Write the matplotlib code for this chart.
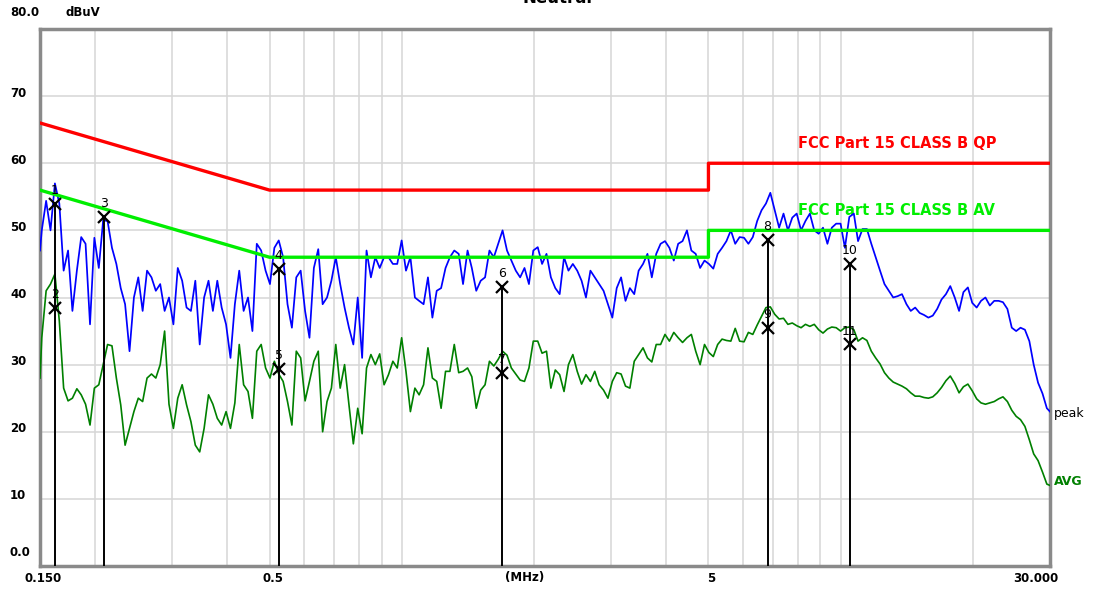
import matplotlib
matplotlib.use("Agg")
import matplotlib.pyplot as plt
from matplotlib.transforms import ScaledTranslation, blended_transform_factory

# 100 points per decade mantissa table (sweep frequencies)
MANTISSA = [1.000, 1.023, 1.047, 1.072, 1.096, 1.122, 1.148, 1.175, 1.202, 1.230,
            1.259, 1.288, 1.318, 1.349, 1.380, 1.413, 1.445, 1.479, 1.514, 1.549,
            1.585, 1.622, 1.660, 1.698, 1.738, 1.778, 1.820, 1.862, 1.905, 1.950,
            1.995, 2.042, 2.089, 2.138, 2.188, 2.239, 2.291, 2.344, 2.399, 2.455,
            2.512, 2.570, 2.630, 2.692, 2.754, 2.818, 2.884, 2.951, 3.020, 3.090,
            3.162, 3.236, 3.311, 3.388, 3.467, 3.548, 3.631, 3.715, 3.802, 3.890,
            3.981, 4.074, 4.169, 4.266, 4.365, 4.467, 4.571, 4.677, 4.786, 4.898,
            5.012, 5.129, 5.248, 5.370, 5.495, 5.623, 5.754, 5.888, 6.026, 6.166,
            6.310, 6.457, 6.607, 6.761, 6.918, 7.079, 7.244, 7.413, 7.586, 7.762,
            7.943, 8.128, 8.318, 8.511, 8.710, 8.913, 9.120, 9.333, 9.550, 9.772]

FREQ_MHZ = ([0.150] + [m / 10 for m in MANTISSA[18:]] + MANTISSA
            + [m * 10 for m in MANTISSA[:48]] + [30.0])

PEAK_DBUV = [47,
    50, 54.4, 50, 57, 54, 44, 47, 38, 44, 49,
    48, 36, 48.9, 44.4, 51.5, 51.4, 47.4, 45, 41.4, 39,
    32, 40, 43, 38, 44, 43, 41, 42, 38, 40,
    36, 44.4, 42.5, 38.5, 38, 42.5, 33, 40, 42.5, 38,
    42.5, 38.5, 36, 31, 39, 44, 38, 40, 35, 48,
    47, 44, 42, 47.4, 48.5, 46, 39, 35.5, 43, 44,
    38, 34, 44.4, 47.2, 39, 40, 42.5, 46, 42, 38.5,
    35.5, 33, 40, 31, 47, 43, 46, 44.4, 46, 46,
    45, 45, 48.5, 44, 46, 40, 39.5, 39, 43, 37,
    41, 41.4, 44.4, 46, 47, 46.5, 42, 47, 44.4, 41,
    42.5, 43, 47, 46, 48, 50, 47, 45.5, 44, 43,
    44.4, 42, 47, 47.5, 45, 46.5, 43, 41.4, 40.5, 46,
    44, 45, 44, 42.5, 40, 44, 43, 42, 41, 39,
    37, 41.4, 43, 39.5, 41.4, 40.5, 44, 45, 46.5, 43,
    46.5, 48, 48.4, 47.4, 45.5, 48, 48.4, 50, 47, 46.5,
    44.4, 45.5, 45, 44.3, 46.5, 47.4, 48.4, 50, 48, 49,
    48.9, 48, 49, 51.4, 53, 54, 55.6, 53, 50.4, 52.5,
    50, 51.9, 52.5, 50, 51.4, 52.5, 50, 49.5, 50.4, 48,
    50.4, 51, 51, 47.4, 52, 52.5, 48.4, 50.2, 50.2, 48,
    46, 44, 42, 41, 40, 40.2, 40.5, 39, 38, 38.5,
    37.7, 37.4, 37, 37.3, 38.3, 39.7, 40.5, 41.7, 40, 38,
    40.8, 41.5, 39.2, 38.5, 39.5, 40, 38.8, 39.5, 39.5, 39.3,
    38.3, 35.5, 35, 35.5, 35.2, 33.5, 30, 27.3, 25.7, 23.5,
    23]

AVG_DBUV = [28,
    34, 41, 42, 43.5, 36.5, 26.5, 24.6, 25, 26.4, 25.5,
    24.1, 21, 26.5, 27, 30, 33, 32.8, 28, 24, 18,
    20.5, 23, 25, 24.5, 28, 28.6, 28, 30, 35, 24.1,
    20.5, 25, 27, 24, 21.5, 18, 17, 20.5, 25.5, 24.1,
    22, 21, 23, 20.5, 24.3, 33, 27, 26, 22, 32,
    33, 29.5, 28, 30.5, 28.6, 27.5, 24.5, 21, 32, 31,
    24.6, 27.5, 30.5, 32, 20, 24.5, 26.5, 33, 26.5, 30,
    24, 18.2, 23.5, 19.7, 29.5, 31.5, 30, 31.6, 27, 28.5,
    30.5, 29.5, 34, 29, 23, 26.5, 25.5, 27, 32.5, 28,
    27.5, 23.5, 29, 29, 33, 28.8, 29, 29.5, 28.2, 23.5,
    26.2, 27, 30.5, 29.8, 30.8, 32, 31.4, 29.5, 28.6, 27.7,
    27.5, 29.5, 33.5, 33.5, 31.7, 32, 26.5, 29.2, 28.5, 26,
    30, 31.5, 29, 27.1, 28.5, 27.5, 29, 27, 26.2, 25,
    27.5, 28.8, 28.6, 26.8, 26.5, 30.5, 31.5, 32.5, 31, 30.4,
    33, 33, 34.5, 33.5, 34.8, 34, 33.3, 34, 34.5, 32,
    30, 33, 31.8, 31.2, 33, 33.8, 33.6, 33.5, 35.4, 33.5,
    33.4, 34.8, 34.5, 35.9, 37.2, 38.5, 38.6, 37.5, 36.8, 36.9,
    36, 36.2, 35.8, 35.5, 36, 35.7, 36, 35.2, 34.7, 35.3,
    35.6, 35.5, 35, 35.5, 35.6, 35.2, 33.5, 34, 33.6, 32,
    31, 30.1, 28.8, 28, 27.4, 27.1, 26.8, 26.4, 25.8, 25.3,
    25.3, 25.1, 25, 25.2, 25.8, 26.6, 27.6, 28.3, 27.2, 25.8,
    26.7, 27.1, 26.1, 24.9, 24.3, 24.1, 24.3, 24.5, 24.9, 25.2,
    24.5, 23.2, 22.3, 21.8, 20.8, 18.8, 16.7, 15.7, 14, 12.2,
    12]

# FCC Part 15 class B limits
LIMIT_FREQ = [0.15, 0.5, 0.5, 5, 5, 30]
QP_LIMIT = [66, 56, 56, 56, 60, 60]
AV_LIMIT = [56, 46, 46, 46, 50, 50]

MARKER_NO = ["1", "2", "3", "4", "5", "6", "7", "8", "9", "10", "11"]
MARKER_FREQ = [0.162, 0.162, 0.210, 0.525, 0.525, 1.69, 1.69, 6.82, 6.82, 10.5, 10.5]
MARKER_LEVEL = [54.0, 38.5, 52.0, 44.3, 29.3, 41.5, 28.8, 48.5, 35.5, 45.0, 33.0]

Y_LABELS = [(80, "80.0"), (70, "70"), (60, "60"), (50, "50"), (40, "40"),
            (30, "30"), (20, "20"), (10, "10"), (0, "0.0")]
X_LABELS = [(0.15, "0.150"), (0.5, "0.5"), (5, "5"), (30, "30.000")]
GRID_X = [0.2, 0.3, 0.4, 0.5, 0.6, 0.7, 0.8, 0.9, 1, 2, 3, 4, 5, 6, 7, 8, 9, 10, 20]
GRID_Y = [10, 20, 30, 40, 50, 60, 70]

BLUE = "#0000ff"
DKGREEN = "#008000"
LIME = "#00ee00"
RED = "#ff0000"

plt.rcParams["font.family"] = ["DejaVu Sans"]

fig = plt.figure(figsize=(10.94, 5.95), dpi=100)
ax = fig.add_axes([40 / 1094, 29 / 595, 1010 / 1094, 537 / 595])
ax.set_xscale("log")
ax.set_xlim(0.15, 30)
ax.set_ylim(0, 80)
ax.minorticks_off()
ax.set_xticks(GRID_X)
ax.set_yticks(GRID_Y)
ax.tick_params(length=0, labelbottom=False, labelleft=False)
ax.grid(True, color="#d6d6d6", lw=1.1)
ax.set_axisbelow(True)
for side, sp in ax.spines.items():
    sp.set_color("#8a8a8a")
    sp.set_linewidth(2.5)

# traces
ax.plot(FREQ_MHZ, PEAK_DBUV, color=BLUE, lw=1.25, zorder=3)
ax.plot(FREQ_MHZ, AVG_DBUV, color=DKGREEN, lw=1.2, zorder=3)

# limits
ax.plot(LIMIT_FREQ, QP_LIMIT, color=RED, lw=2.4, zorder=4)
ax.plot(LIMIT_FREQ, AV_LIMIT, color=LIME, lw=2.4, zorder=4)
ax.text(8.0, 62.9, "FCC Part 15 CLASS B QP", color=RED, fontsize=10.5,
        fontweight="bold", va="center", zorder=2)
ax.text(8.0, 52.9, "FCC Part 15 CLASS B AV", color=LIME, fontsize=10.5,
        fontweight="bold", va="center", zorder=2)

# markers
tops = {}
for f, lv in zip(MARKER_FREQ, MARKER_LEVEL):
    tops[f] = max(tops.get(f, 0), lv)
ax.vlines(list(tops.keys()), 0, list(tops.values()), colors="black", lw=1.4, zorder=5)
ax.plot(MARKER_FREQ, MARKER_LEVEL, "x", color="black", ms=8, mew=1.6, zorder=6)
for no, f, lv in zip(MARKER_NO, MARKER_FREQ, MARKER_LEVEL):
    ax.annotate(no, (f, lv), xytext=(0, 5), textcoords="offset points",
                ha="center", va="bottom", fontsize=9, zorder=6)

# trace names at right edge
ax.annotate("peak", (30, PEAK_DBUV[-1]), xytext=(3, -1), textcoords="offset points",
            ha="left", va="center", fontsize=9, annotation_clip=False)
ax.annotate("AVG", (30, AVG_DBUV[-1]), xytext=(3, 3), textcoords="offset points",
            ha="left", va="center", fontsize=9, color=DKGREEN, fontweight="bold",
            annotation_clip=False)

# axis labels drawn as text
ytr = blended_transform_factory(ax.transAxes, ax.transData)
for v, s in Y_LABELS:
    up = 3 if 0 < v < 80 else (14 if v == 0 else 16)
    ax.text(-30 / 1010, v, s, transform=ytr + ScaledTranslation(0, up / 100, fig.dpi_scale_trans),
            ha="left", va="center", fontsize=8.5, fontweight="bold")
ax.text(25 / 1010, 80, "dBuV", transform=ytr + ScaledTranslation(0, 16 / 100, fig.dpi_scale_trans),
        ha="left", va="center", fontsize=8.5, fontweight="bold")

xtr = blended_transform_factory(ax.transData, ax.transAxes)
for f, s in X_LABELS:
    dx = -14 if f == 30 else 3
    ax.text(f, 0, s, transform=xtr + ScaledTranslation(dx / 100, -12 / 100, fig.dpi_scale_trans),
            ha="center", va="center", fontsize=8.5, fontweight="bold")
ax.text(485 / 1010, 0, "(MHz)", transform=ax.transAxes + ScaledTranslation(0, -12 / 100, fig.dpi_scale_trans),
        ha="center", va="center", fontsize=8.5, fontweight="bold")

# title, mostly cut off at the top edge as in the source image
fig.text(558 / 1094, 1 - 3 / 595, "Neutral", ha="center", va="baseline",
         fontsize=12, fontweight="bold")

fig.savefig("out.png", dpi=100)
